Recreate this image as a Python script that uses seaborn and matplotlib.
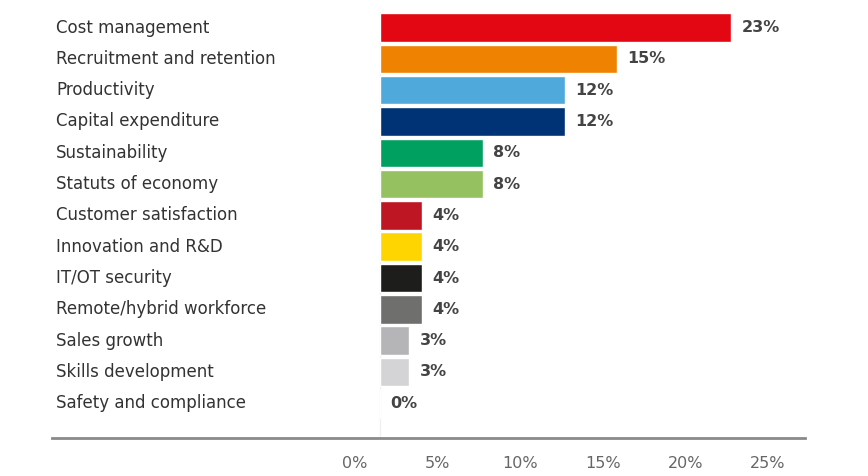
import matplotlib
matplotlib.use("Agg")
import matplotlib.pyplot as plt
import matplotlib.transforms as mtransforms
import seaborn as sns
import pandas as pd

# ---- data ----
categories = [
    "Cost management", "Recruitment and retention", "Productivity",
    "Capital expenditure", "Sustainability", "Statuts of economy",
    "Customer satisfaction", "Innovation and R&D", "IT/OT security",
    "Remote/hybrid workforce", "Sales growth", "Skills development",
    "Safety and compliance",
]
# bar lengths as drawn (in % units of the 23% bar)
bar_values = [23.0, 15.5, 12.1, 12.1, 6.75, 6.75, 2.75, 2.75, 2.75, 2.75, 1.9, 1.9, 0.0]
value_labels = ["23%", "15%", "12%", "12%", "8%", "8%", "4%", "4%", "4%", "4%", "3%", "3%", "0%"]
tick_values = [0, 5, 10, 15, 20, 25]
tick_labels = ["0%", "5%", "10%", "15%", "20%", "25%"]
colors = ["#E30613", "#EF8200", "#4FA9DB", "#003376", "#00A060", "#95C161",
          "#BE1622", "#FFD500", "#1D1D1B", "#6F6F6E", "#B5B5B7", "#D4D4D6", "#E8E8E8"]

df = pd.DataFrame({"category": categories, "value": bar_values})

sns.set_theme(style="white")
plt.rcParams["font.family"] = ["DejaVu Sans"]

W, H = 868, 476
fig = plt.figure(figsize=(W / 100, H / 100), dpi=100)
ax = fig.add_axes([52 / W, 1 - 437.7 / H, 753 / W, (437.7 - 11.85) / H])

sns.barplot(data=df, x="value", y="category", hue="category", palette=colors,
            legend=False, width=0.91, saturation=1, ax=ax, orient="h")

ax.set_xlim(-21.49, 27.85)
ax.set_ylim(13.1, -0.5)
for s in ["top", "right", "left"]:
    ax.spines[s].set_visible(False)
ax.spines["bottom"].set_color("#8a8a8a")
ax.spines["bottom"].set_linewidth(2)
ax.set_xticks([])
ax.set_yticks([])
ax.set_xlabel("")
ax.set_ylabel("")
ax.axvline(0, color="#f0f0f0", lw=1, zorder=0)

blend = mtransforms.blended_transform_factory(ax.transAxes, ax.transData)
for i, (cat, v, lab) in enumerate(zip(categories, bar_values, value_labels)):
    ax.text(4 / 753, i, cat, transform=blend, ha="left", va="center",
            fontsize=12, color="#333333")
    ax.annotate(lab, (v, i), xytext=(7.5, 0), textcoords="offset points",
                ha="left", va="center", fontsize=11.5, fontweight="bold",
                color="#444444")

# separate tick scale as in the reference
ax2 = ax.twiny()
ax2.set_xlim(-18.34, 27.24)
ax2.xaxis.set_ticks_position("bottom")
ax2.xaxis.set_label_position("bottom")
ax2.set_xticks(tick_values)
ax2.set_xticklabels(tick_labels)
ax2.tick_params(axis="x", length=0, pad=13, labelsize=11.5, labelcolor="#666666")
for s in ax2.spines.values():
    s.set_visible(False)

fig.savefig("out.png", dpi=100, facecolor="white")
